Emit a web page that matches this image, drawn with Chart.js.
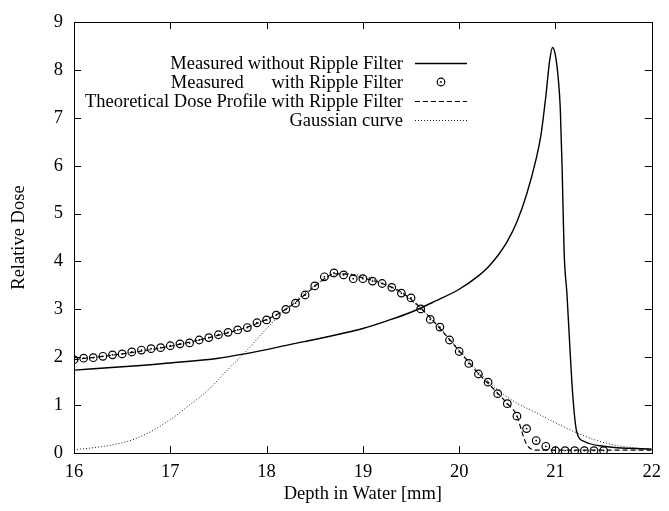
<!DOCTYPE html>
<html>
<head>
<meta charset="utf-8">
<script src="https://cdn.jsdelivr.net/npm/chart.js@4/dist/chart.umd.min.js"></script>
<style>
  html,body{margin:0;padding:0;background:#fff}
  #wrap{width:669px;height:511px;position:relative}
</style>
</head>
<body>
<div id="wrap"><canvas id="c"></canvas></div>
<script>
// ---- data (depth in mm, relative dose) ----
const xTicks = [16, 17, 18, 19, 20, 21, 22];
const yTicks = [0, 1, 2, 3, 4, 5, 6, 7, 8, 9];

const noRippleDepth = [16, 16.5, 17, 17.5, 18, 18.25, 18.5, 18.75, 19, 19.25, 19.5, 19.75, 20, 20.2,
  20.3, 20.4, 20.5, 20.6, 20.7, 20.8, 20.85, 20.9, 20.94, 20.97, 21.0, 21.03, 21.05, 21.07, 21.09,
  21.12, 21.15, 21.18, 21.22, 21.3, 21.5, 22];
const noRippleDose = [1.73, 1.8, 1.88, 1.98, 2.16, 2.27, 2.37, 2.48, 2.6, 2.76, 2.94, 3.17, 3.42, 3.7,
  3.88, 4.12, 4.42, 4.83, 5.4, 6.15, 6.65, 7.45, 8.2, 8.47, 8.3, 7.8, 7.2, 5.9, 4.2,
  3.3, 2.2, 1.2, 0.45, 0.24, 0.14, 0.08];

const rippleDepth = [16.0, 16.1, 16.2, 16.3, 16.4, 16.5, 16.6, 16.7, 16.8, 16.9,
  17.0, 17.1, 17.2, 17.3, 17.4, 17.5, 17.6, 17.7, 17.8, 17.9,
  18.0, 18.1, 18.2, 18.3, 18.4, 18.5, 18.6, 18.7, 18.8, 18.9,
  19.0, 19.1, 19.2, 19.3, 19.4, 19.5, 19.6, 19.7, 19.8, 19.9,
  20.0, 20.1, 20.2, 20.3, 20.4, 20.5, 20.6, 20.7, 20.8, 20.9,
  21.0, 21.1, 21.2, 21.3, 21.4, 21.5];
const rippleDose = [1.95, 1.98, 1.99, 2.02, 2.05, 2.07, 2.11, 2.15, 2.18, 2.20,
  2.24, 2.28, 2.30, 2.36, 2.41, 2.47, 2.52, 2.57, 2.62, 2.72,
  2.78, 2.88, 3.00, 3.13, 3.30, 3.49, 3.68, 3.76, 3.72, 3.64,
  3.64, 3.59, 3.54, 3.46, 3.34, 3.24, 3.01, 2.79, 2.63, 2.36,
  2.12, 1.87, 1.65, 1.48, 1.24, 1.03, 0.77, 0.51, 0.26, 0.14,
  0.05, 0.05, 0.05, 0.05, 0.05, 0.05];

const theoryDepth = [16, 16.5, 17, 17.5, 17.8, 18, 18.2, 18.4, 18.6, 18.7, 18.8, 19, 19.2, 19.4,
  19.6, 19.8, 20, 20.2, 20.4, 20.5, 20.6, 20.65, 20.7, 20.75, 20.8, 21, 21.5, 22];
const theoryDose = [1.95, 2.07, 2.23, 2.46, 2.63, 2.79, 3.0, 3.31, 3.64, 3.74, 3.74, 3.66, 3.54, 3.36,
  3.03, 2.6, 2.13, 1.66, 1.25, 1.03, 0.78, 0.45, 0.18, 0.08, 0.06, 0.06, 0.06, 0.06];

const gaussDepth = [16, 16.2, 16.4, 16.6, 16.8, 17, 17.2, 17.4, 17.6, 17.8, 18, 18.2, 18.4, 18.6, 18.8,
  19, 19.2, 19.4, 19.6, 19.8, 20, 20.2, 20.4, 20.6, 20.8, 21, 21.2, 21.4, 21.6, 21.8, 22];
const gaussDose = [0.07, 0.11, 0.17, 0.27, 0.45, 0.7, 1.0, 1.33, 1.75, 2.15, 2.6, 3.0, 3.35, 3.62, 3.74,
  3.7, 3.55, 3.33, 3.02, 2.62, 2.15, 1.7, 1.32, 1.04, 0.84, 0.63, 0.44, 0.28, 0.17, 0.11, 0.08];

const labels = ["Measured without Ripple Filter", "Measured      with Ripple Filter",
  "Theoretical Dose Profile with Ripple Filter", "Gaussian curve"];

const pts = (xs, ys) => xs.map((x, i) => ({ x, y: ys[i] }));
const FONT = "'Liberation Serif', 'DejaVu Serif', serif";
const FS = 18.5;

// gnuplot-style frame + inward ticks on all four sides
const framePlugin = {
  id: "frame",
  afterDraw(chart) {
    const { ctx, chartArea: a, scales } = chart;
    const T = 7;
    ctx.save();
    ctx.strokeStyle = "#000"; ctx.lineWidth = 1;
    ctx.strokeRect(Math.round(a.left) + 0.5, Math.round(a.top) + 0.5,
      Math.round(a.right - a.left), Math.round(a.bottom - a.top));
    ctx.beginPath();
    xTicks.forEach(v => {
      const px = Math.round(scales.x.getPixelForValue(v)) + 0.5;
      ctx.moveTo(px, a.bottom); ctx.lineTo(px, a.bottom - T);
      ctx.moveTo(px, a.top); ctx.lineTo(px, a.top + T);
    });
    yTicks.forEach(v => {
      const py = Math.round(scales.y.getPixelForValue(v)) + 0.5;
      ctx.moveTo(a.left, py); ctx.lineTo(a.left + T, py);
      ctx.moveTo(a.right, py); ctx.lineTo(a.right - T, py);
    });
    ctx.stroke();
    ctx.restore();
  },
};

// key drawn like gnuplot: text right-aligned, sample on the right
const keyPlugin = {
  id: "gkey",
  afterDraw(chart) {
    const { ctx } = chart;
    const textRight = 403, s0 = 415, s1 = 467, top = 63, step = 19;
    ctx.save();
    ctx.font = FS + "px " + FONT;
    ctx.fillStyle = "#000"; ctx.textAlign = "right"; ctx.textBaseline = "middle";
    labels.forEach((t, i) => {
      const y = top + i * step;
      ctx.fillText(t, textRight, y + 1);
      const ds = chart.data.datasets[i];
      if (i === 1) {
        const cx = (s0 + s1) / 2;
        ctx.beginPath(); ctx.lineWidth = 1.2; ctx.strokeStyle = "#000";
        ctx.arc(cx, y, 3.8, 0, Math.PI * 2); ctx.stroke();
        ctx.beginPath(); ctx.arc(cx, y, 0.9, 0, Math.PI * 2); ctx.fill();
      } else {
        ctx.beginPath();
        ctx.lineWidth = ds.borderWidth; ctx.strokeStyle = "#000";
        ctx.setLineDash(ds.borderDash || []);
        ctx.moveTo(s0, y + 0.5); ctx.lineTo(s1, y + 0.5); ctx.stroke();
        ctx.setLineDash([]);
      }
    });
    ctx.restore();
  },
};

new Chart(document.getElementById("c"), {
  type: "scatter",
  data: {
    datasets: [
      { label: labels[0], data: pts(noRippleDepth, noRippleDose), showLine: true, borderColor: "#000",
        borderWidth: 1.4, pointRadius: 0, cubicInterpolationMode: "monotone" },
      { label: labels[1], data: pts(rippleDepth, rippleDose), showLine: false, borderColor: "#000",
        backgroundColor: "rgba(0,0,0,0)", borderWidth: 1.2, pointRadius: 3.8, pointStyle: "circle" },
      { label: labels[2], data: pts(theoryDepth, theoryDose), showLine: true, borderColor: "#000",
        borderWidth: 1.2, borderDash: [5, 3], pointRadius: 0, cubicInterpolationMode: "monotone" },
      { label: labels[3], data: pts(gaussDepth, gaussDose), showLine: true, borderColor: "#000",
        borderWidth: 0.9, borderDash: [1, 2], pointRadius: 0, cubicInterpolationMode: "monotone" },
      { label: "", data: pts(rippleDepth, rippleDose), showLine: false, borderWidth: 0,
        backgroundColor: "#000", pointRadius: 0.9 },
    ],
  },
  options: {
    responsive: true, maintainAspectRatio: false, animation: false,
    layout: { padding: { top: 15, right: 10, left: 0, bottom: 0 } },
    plugins: { legend: { display: false }, tooltip: { enabled: false } },
    scales: {
      x: {
        type: "linear", min: 16, max: 22,
        afterFit: s => { s.height = 58; },
        afterBuildTicks: s => { s.ticks = xTicks.map(v => ({ value: v })); },
        grid: { display: false, drawTicks: false },
        border: { display: false },
        ticks: { color: "#000", padding: 8, font: { family: FONT, size: FS } },
        title: { display: true, text: "Depth in Water [mm]", color: "#000",
          font: { family: FONT, size: FS }, padding: { top: 2, bottom: 6 } },
      },
      y: {
        type: "linear", min: 0, max: 9,
        afterFit: s => { s.width = 74; },
        afterBuildTicks: s => { s.ticks = yTicks.map(v => ({ value: v })); },
        grid: { display: false, drawTicks: false },
        border: { display: false },
        ticks: { color: "#000", padding: 11, font: { family: FONT, size: FS } },
        title: { display: true, text: "Relative Dose", color: "#000",
          font: { family: FONT, size: FS }, padding: { top: 8, bottom: 0 } },
      },
    },
  },
  plugins: [framePlugin, keyPlugin],
});
</script>
</body>
</html>
